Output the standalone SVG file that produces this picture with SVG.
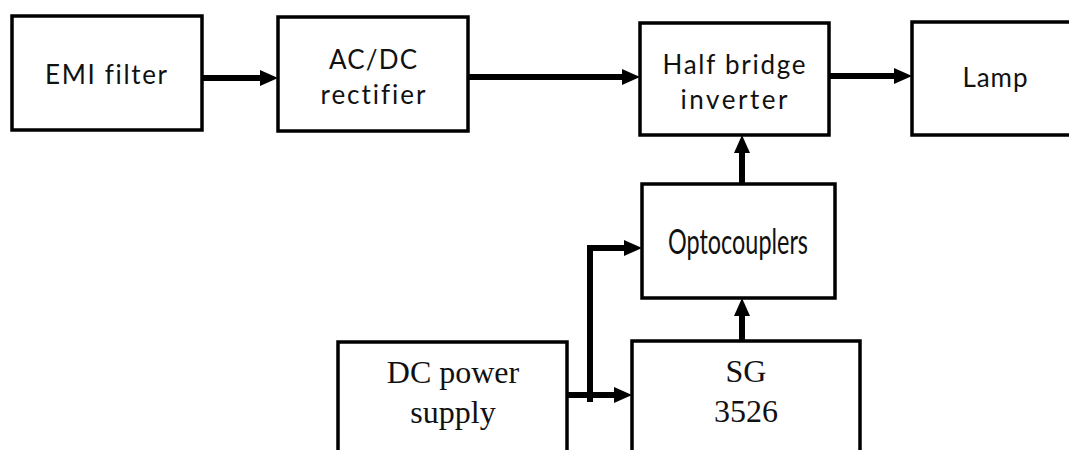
<svg xmlns="http://www.w3.org/2000/svg" width="1069" height="450" viewBox="0 0 1069 450">
<defs>
<style>
.box{fill:#fff;stroke:#000;stroke-width:3.5}
.sans{font-family:Lato,"Open Sans","Liberation Sans",sans-serif;font-size:26px;fill:#111;text-anchor:middle;font-variant-ligatures:none}
.serif{font-family:"Liberation Serif","Times New Roman",serif;font-size:32px;fill:#111;text-anchor:middle}
.wire{fill:none;stroke:#000;stroke-width:6;stroke-linejoin:miter}
</style>
<marker id="ah" markerUnits="userSpaceOnUse" viewBox="0 0 18 16" markerWidth="18" markerHeight="16" refX="6" refY="8" orient="auto">
<path d="M0,0 L18,8 L0,16 z" fill="#000"/>
</marker>
</defs>
<rect width="1069" height="450" fill="#fff"/>
<g id="emi">
<rect class="box" x="12" y="16" width="190" height="114"/>
<text class="sans" x="106" y="84" textLength="122" lengthAdjust="spacing">EMI filter</text>
</g>
<g id="acdc">
<rect class="box" x="278" y="17" width="190" height="114"/>
<text class="sans" x="373" y="69" textLength="88" lengthAdjust="spacing">AC/DC</text>
<text class="sans" x="373" y="104" textLength="105" lengthAdjust="spacing">rectifier</text>
</g>
<g id="halfbridge">
<rect class="box" x="640" y="23" width="189" height="112"/>
<text class="sans" x="734" y="74" textLength="143" lengthAdjust="spacing">Half bridge</text>
<text class="sans" x="734" y="109" textLength="107" lengthAdjust="spacing">inverter</text>
</g>
<g id="lamp">
<rect class="box" x="912" y="22" width="170" height="113"/>
<text class="sans" x="995" y="87" textLength="65" lengthAdjust="spacing">Lamp</text>
</g>
<g id="opto">
<rect class="box" x="642" y="184" width="193" height="114"/>
<text class="sans" x="738" y="254" style="font-size:34px" textLength="140" lengthAdjust="spacingAndGlyphs">Optocouplers</text>
</g>
<g id="dcsupply">
<rect class="box" x="338" y="342" width="229" height="130"/>
<text class="serif" x="453" y="383">DC power</text>
<text class="serif" x="453" y="423">supply</text>
</g>
<g id="sg3526">
<rect class="box" x="632" y="341" width="228" height="130"/>
<text class="serif" x="746" y="382">SG</text>
<text class="serif" x="746" y="422">3526</text>
</g>
<g id="connectors">
<line class="wire" x1="202" y1="78" x2="266" y2="78" marker-end="url(#ah)"/>
<line class="wire" x1="468" y1="77" x2="628" y2="77" marker-end="url(#ah)"/>
<line class="wire" x1="829" y1="76" x2="900" y2="76" marker-end="url(#ah)"/>
<line class="wire" x1="742" y1="184" x2="742" y2="147" marker-end="url(#ah)"/>
<line class="wire" x1="742" y1="341" x2="742" y2="310" marker-end="url(#ah)"/>
<line class="wire" x1="567" y1="395" x2="620" y2="395" marker-end="url(#ah)"/>
<path class="wire" d="M590,402 L590,248 L630,248" marker-end="url(#ah)"/>
</g>
</svg>
